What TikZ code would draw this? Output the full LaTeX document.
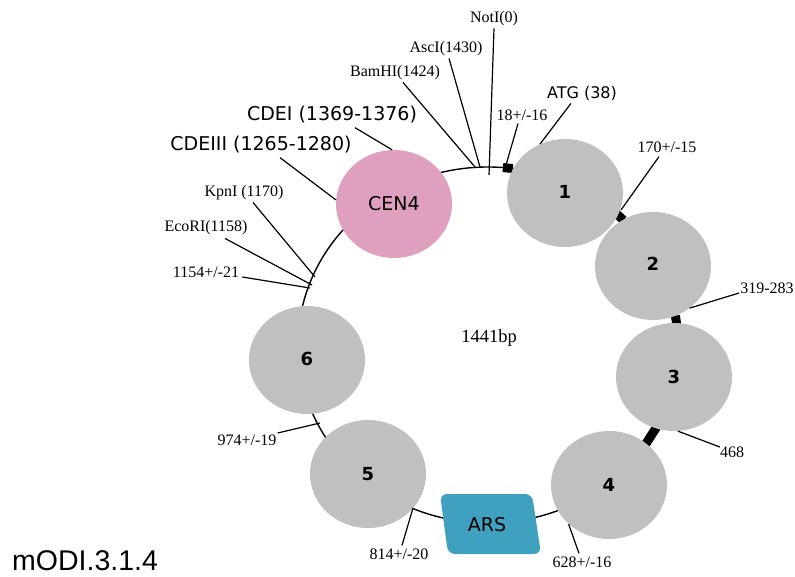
\documentclass[tikz,border=0pt]{standalone}
\usepackage{fontspec}
\setmainfont{Liberation Serif}
\newfontfamily\comicfont{DejaVu Sans}
\newfontfamily\arialfont{Liberation Sans}
\usetikzlibrary{shapes.geometric}
\definecolor{nucgray}{RGB}{192,192,192}
\definecolor{cenpink}{RGB}{223,160,192}
\definecolor{arsblue}{RGB}{64,160,192}
\begin{document}
\begin{tikzpicture}[x=1pt,y=-1pt,
  serif/.style={font=\fontsize{16}{18}\selectfont, inner sep=0pt},
  comic/.style={font=\comicfont\fontsize{19}{21}\selectfont, inner sep=0pt},
  nuc/.style={ellipse, fill=nucgray, minimum width=116pt, minimum height=108pt, inner sep=0pt,
    font=\comicfont\bfseries\fontsize{18}{20}\selectfont},
  leader/.style={line width=1.2pt},
  linker/.style={line width=9pt},
  backbone/.style={line width=1.4pt}]
\fill[white] (0,0) rectangle (795,577);
\useasboundingbox (0,0) rectangle (795,577);

% backbone
\draw[backbone] (488,345) ellipse [x radius=190, y radius=178];

% linker marks
\draw[linker] ({488+190*cos(-85.5)},{345+178*sin(-85.5)}) -- ({488+190*cos(-82.5)},{345+178*sin(-82.5)});
\draw[linker] ({488+190*cos(-47.5)},{345+178*sin(-47.5)}) -- ({488+190*cos(-44.5)},{345+178*sin(-44.5)});
\draw[linker] ({488+190*cos(-9.5)},{345+178*sin(-9.5)}) -- ({488+190*cos(-6.5)},{345+178*sin(-6.5)});
\draw[linker] ({488+190*cos(27.5)},{345+178*sin(27.5)}) -- ({488+190*cos(34.5)},{345+178*sin(34.5)});

% nucleosomes
\node[nuc] (n1) at (565,193) {\raisebox{3pt}{1}\hspace{6pt}};
\node[nuc] (n2) at (653,266) {\raisebox{4pt}{2}};
\node[nuc] (n3) at (674,377) {3};
\node[nuc] (n4) at (609,485) {4};
\node[nuc] (n5) at (368,474) {5\hspace{8pt}};
\node[nuc] (n6) at (307,360) {\raisebox{3pt}{6}\hspace{8pt}};
\node[ellipse, fill=cenpink, minimum width=116pt, minimum height=108pt, inner sep=0pt,
  font=\comicfont\fontsize{19}{21}\selectfont] (cen) at (394,204) {CEN4};

% ARS
\fill[arsblue, rounded corners=7pt] (440,494) -- (532,494) -- (541,554) -- (448,554) -- cycle;
\node[comic] (ars) at (487,525) {ARS};

% centre label
\node[font=\fontsize{18.5}{20}\selectfont, inner sep=0pt] (size) at (489,338) {1441bp};

% labels
\node[serif] (lnot) at (494,19) {NotI(0)};
\node[serif] (lasc) at (446,49) {AscI(1430)};
\node[serif] (lbam) at (395,73) {BamHI(1424)};
\node[serif] (l18) at (522,115) {18+/-16};
\node[comic, font=\comicfont\fontsize{16}{18}\selectfont] (latg) at (582,93) {ATG (38)};
\node[comic] (lcdei) at (332,115) {CDEI (1369-1376)};
\node[comic] (lcdeiii) at (261,145) {CDEIII (1265-1280)};
\node[serif] (lkpn) at (244,193) {KpnI (1170)};
\node[serif] (leco) at (206,228) {EcoRI(1158)};
\node[serif] (l1154) at (206,272) {1154+/-21};
\node[serif] (l170) at (667,147) {170+/-15};
\node[serif] (l319) at (767,288) {319-283};
\node[serif] (l468) at (732,452) {468};
\node[serif] (l628) at (582,562) {628+/-16};
\node[serif] (l814) at (399,554) {814+/-20};
\node[serif] (l974) at (247,440) {974+/-19};
\node[font=\arialfont\fontsize{28.5}{30}\selectfont, inner sep=0pt, anchor=base west] (title) at (12,570) {mODI.3.1.4};

% target points on the backbone
\coordinate (tnot) at (489,175);
\coordinate (tasc) at (480,167);
\coordinate (tbam) at (475,167);
\coordinate (t18) at (506,165);
\coordinate (tkpn) at (315,277);
\coordinate (teco) at (312,285);
\coordinate (t1154) at (310,288);
\coordinate (t170) at (621,210);
\coordinate (t814) at (413,508);
\coordinate (t974) at (320,423);

% leader lines
\draw[leader] ([yshift=-2pt]lnot.south) -- (tnot);
\draw[leader] ([xshift=3pt,yshift=-2pt]lasc.south) -- (tasc);
\draw[leader] ([xshift=8pt,yshift=-2pt]lbam.south) -- (tbam);
\draw[leader] ([xshift=-4pt,yshift=-3pt]l18.south) -- (t18);
\draw[leader] ([xshift=-11pt,yshift=-3pt]latg.south) -- (n1.117);
\draw[leader] ([xshift=23pt,yshift=-4pt]lcdei.south) -- (cen.92);
\draw[leader] ([xshift=19pt,yshift=-4pt]lcdeiii.south) -- (cen.176);
\draw[leader] ([xshift=9pt,yshift=-2pt]lkpn.south) -- (tkpn);
\draw[leader] ([xshift=19pt,yshift=-3pt]leco.south) -- (teco);
\draw[leader] ([xshift=3pt,yshift=-5pt]l1154.east) -- (t1154);
\draw[leader] ([xshift=-8pt,yshift=-4pt]l170.south) -- (t170);
\draw[leader] ([xshift=-1pt,yshift=-5pt]l319.west) -- (n2.-49);
\draw[leader] ([yshift=5pt]l468.west) -- (n3.-86);
\draw[leader] ([xshift=-3pt,yshift=3pt]l628.north) -- (n4.-136);
\draw[leader] ([xshift=3pt,yshift=3pt]l814.north) -- (t814);
\draw[leader] ([xshift=1pt,yshift=7pt]l974.east) -- (t974);
\end{tikzpicture}
\end{document}
